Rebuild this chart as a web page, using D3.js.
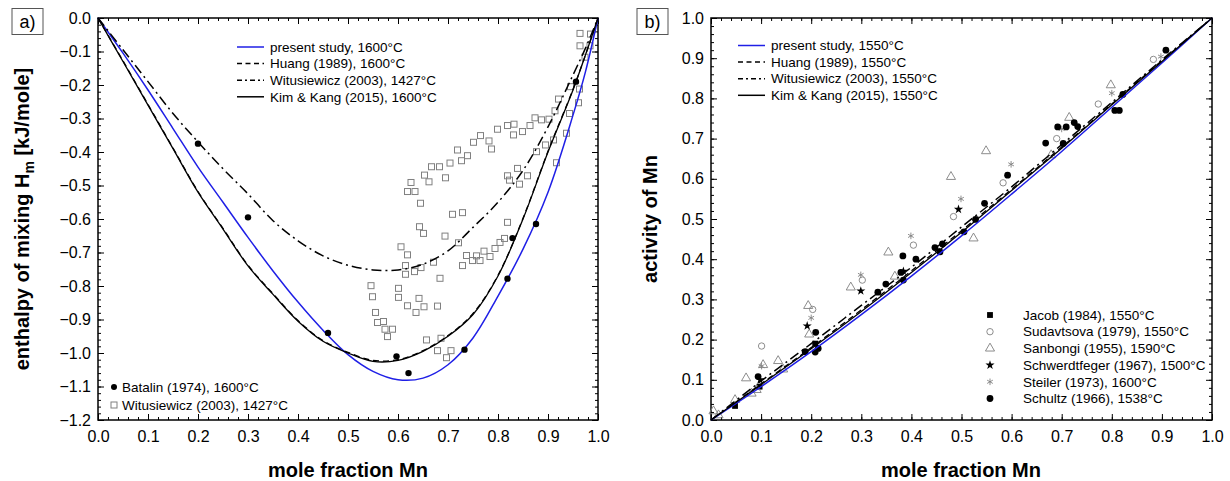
<!DOCTYPE html>
<html>
<head>
<meta charset="utf-8">
<script src="https://cdn.jsdelivr.net/npm/d3@7"></script>
<style>
  body{margin:0;background:#fff;}
  svg{font-family:"Liberation Sans",Arial,sans-serif;}
</style>
</head>
<body>
<svg class="chart" width="1230" height="481"></svg>
<script>
// a) enthalpy of mixing [kJ/mole] vs. mole fraction Mn
var xTicks = [0,0.1,0.2,0.3,0.4,0.5,0.6,0.7,0.8,0.9,1.0],
  hTicks = [0,-0.1,-0.2,-0.3,-0.4,-0.5,-0.6,-0.7,-0.8,-0.9,-1.0,-1.1,-1.2],
  aTicks = [0,0.1,0.2,0.3,0.4,0.5,0.6,0.7,0.8,0.9,1.0];

var hPresent = [[0,0],[0.05,-0.105],[0.1,-0.215],[0.15,-0.33],[0.2,-0.445],[0.25,-0.55],[0.3,-0.655],[0.35,-0.755],[0.4,-0.848],[0.45,-0.932],[0.5,-1.005],[0.55,-1.055],[0.6,-1.08],[0.65,-1.075],[0.7,-1.035],[0.75,-0.955],[0.8,-0.83],[0.85,-0.69],[0.9,-0.52],[0.95,-0.29],[0.975,-0.16],[1,0]];
var hHuang = [[0,0],[0.05,-0.128],[0.1,-0.258],[0.15,-0.388],[0.2,-0.518],[0.25,-0.628],[0.3,-0.738],[0.35,-0.823],[0.4,-0.903],[0.45,-0.963],[0.5,-0.998],[0.55,-1.022],[0.6,-1.02],[0.65,-0.993],[0.7,-0.948],[0.75,-0.882],[0.8,-0.768],[0.85,-0.598],[0.9,-0.398],[0.95,-0.213],[0.975,-0.11],[1,0]];
var hWitus = [[0,0],[0.05,-0.095],[0.1,-0.19],[0.15,-0.285],[0.2,-0.37],[0.25,-0.45],[0.3,-0.525],[0.35,-0.605],[0.4,-0.665],[0.45,-0.71],[0.5,-0.738],[0.55,-0.752],[0.6,-0.752],[0.65,-0.735],[0.7,-0.695],[0.75,-0.625],[0.8,-0.55],[0.85,-0.455],[0.9,-0.325],[0.95,-0.17],[0.975,-0.09],[1,0]];
var hKimKang = [[0,0],[0.05,-0.13],[0.1,-0.26],[0.15,-0.39],[0.2,-0.52],[0.25,-0.63],[0.3,-0.74],[0.35,-0.825],[0.4,-0.905],[0.45,-0.965],[0.5,-1.0],[0.55,-1.025],[0.6,-1.022],[0.65,-0.995],[0.7,-0.95],[0.75,-0.885],[0.8,-0.77],[0.85,-0.6],[0.9,-0.4],[0.95,-0.215],[0.975,-0.11],[1,0]];

var hBatalin = [[0.2,-0.375],[0.3,-0.595],[0.46,-0.94],[0.597,-1.01],[0.621,-1.06],[0.733,-0.99],[0.819,-0.778],[0.829,-0.657],[0.876,-0.615],[0.956,-0.19]];
var hWitusExp = [[0.546,-0.799],[0.549,-0.832],[0.555,-0.879],[0.559,-0.909],[0.571,-0.906],[0.574,-0.929],[0.589,-0.929],[0.579,-0.951],
  [0.601,-0.807],[0.601,-0.834],[0.606,-0.683],[0.615,-0.739],[0.615,-0.765],[0.619,-0.707],[0.619,-0.859],[0.633,-0.757],[0.636,-0.879],[0.642,-0.837],[0.646,-0.745],[0.652,-0.862],[0.679,-0.86],[0.671,-0.729],[0.684,-0.777],
  [0.619,-0.518],[0.634,-0.518],[0.626,-0.491],[0.645,-0.553],[0.643,-0.623],[0.651,-0.643],[0.694,-0.651],
  [0.653,-0.469],[0.662,-0.489],[0.667,-0.444],[0.683,-0.444],[0.695,-0.477],[0.704,-0.433],
  [0.657,-0.961],[0.686,-0.956],[0.679,-0.993],[0.706,-0.993],[0.697,-1.014],
  [0.709,-0.586],[0.729,-0.581],[0.721,-0.671],
  [0.729,-0.739],[0.737,-0.709],[0.749,-0.724],[0.757,-0.71],[0.764,-0.724],[0.772,-0.696],[0.784,-0.712],[0.794,-0.688],[0.804,-0.67],[0.813,-0.658],[0.819,-0.61],
  [0.719,-0.394],[0.727,-0.426],[0.739,-0.411],[0.751,-0.371],[0.765,-0.351],[0.782,-0.367],[0.787,-0.391],[0.799,-0.332],[0.819,-0.321],[0.832,-0.317],[0.831,-0.349],[0.849,-0.339],[0.864,-0.321],[0.874,-0.298],[0.887,-0.304],[0.902,-0.302],
  [0.819,-0.471],[0.823,-0.484],[0.843,-0.496],[0.839,-0.449],[0.859,-0.471],[0.877,-0.399],[0.895,-0.379],[0.911,-0.364],[0.917,-0.432],[0.937,-0.344],
  [0.914,-0.277],[0.921,-0.242],[0.943,-0.285],[0.945,-0.205],[0.961,-0.253],[0.963,-0.212],[0.974,-0.117],[0.964,-0.083],[0.984,-0.083],[0.964,-0.046],[0.985,-0.048]];

// b) activity of Mn
var aPresent = [[0,0],[0.1,0.083],[0.2,0.17],[0.3,0.262],[0.4,0.358],[0.5,0.458],[0.6,0.562],[0.7,0.668],[0.8,0.778],[0.9,0.888],[1,1]];
var aHuang = [[0,0],[0.1,0.09],[0.2,0.18],[0.3,0.274],[0.4,0.371],[0.5,0.471],[0.6,0.574],[0.7,0.679],[0.8,0.786],[0.9,0.894],[1,1]];
var aWitus = [[0,0],[0.1,0.097],[0.2,0.19],[0.3,0.285],[0.4,0.38],[0.5,0.48],[0.6,0.58],[0.7,0.685],[0.8,0.79],[0.9,0.896],[1,1]];
var aKimKang = [[0,0],[0.1,0.088],[0.2,0.177],[0.3,0.27],[0.4,0.367],[0.5,0.467],[0.6,0.571],[0.7,0.676],[0.8,0.784],[0.9,0.892],[1,1]];

var aJacob = [[0.048,0.035],[0.097,0.083],[0.208,0.19]];
var aSudavtsova = [[0.101,0.184],[0.203,0.275],[0.302,0.348],[0.404,0.435],[0.484,0.506],[0.583,0.59],[0.69,0.70],[0.773,0.786],[0.883,0.897]];
var aSanbongi = [[0.005,0.022],[0.015,0.012],[0.048,0.05],[0.07,0.104],[0.081,0.066],[0.091,0.075],[0.104,0.137],[0.134,0.147],[0.144,0.126],[0.194,0.284],[0.196,0.213],[0.279,0.33],[0.354,0.417],[0.367,0.357],[0.479,0.605],[0.524,0.452],[0.549,0.669],[0.679,0.659],[0.715,0.752],[0.798,0.833]];
var aSchwerdtfeger = [[0.098,0.1],[0.192,0.234],[0.299,0.321],[0.384,0.37],[0.494,0.524]];
var aSteiler = [[0.101,0.134],[0.2,0.254],[0.299,0.361],[0.399,0.458],[0.499,0.55],[0.599,0.636],[0.7,0.724],[0.8,0.813],[0.898,0.904]];
var aSchultz = [[0.094,0.108],[0.188,0.17],[0.209,0.218],[0.208,0.169],[0.214,0.178],[0.333,0.318],[0.349,0.338],[0.379,0.367],[0.383,0.408],[0.384,0.348],[0.409,0.40],[0.447,0.429],[0.457,0.418],[0.462,0.438],[0.505,0.468],[0.528,0.499],[0.546,0.539],[0.592,0.609],[0.668,0.689],[0.692,0.729],[0.703,0.688],[0.709,0.729],[0.725,0.74],[0.732,0.73],[0.806,0.77],[0.815,0.77],[0.822,0.81],[0.908,0.92]];

var hLegend = ["present study, 1600°C","Huang (1989), 1600°C","Witusiewicz (2003), 1427°C","Kim & Kang (2015), 1600°C"],
  aLegend = ["present study, 1550°C","Huang (1989), 1550°C","Witusiewicz (2003), 1550°C","Kim & Kang (2015), 1550°C"],
  hExpLegend = ["Batalin (1974), 1600°C","Witusiewicz (2003), 1427°C"],
  aExpLegend = ["Jacob (1984), 1550°C","Sudavtsova (1979), 1550°C","Sanbongi (1955), 1590°C","Schwerdtfeger (1967), 1500°C","Steiler (1973), 1600°C","Schultz (1966), 1538°C"];

var Chart = (function(){
  var that = {},
    svg = d3.select(".chart"),
    blue = "#1f1fe6",
    gray = "#808080",
    lineStyles = [
      {stroke: blue, dash: null, width: 1.5},
      {stroke: "#000", dash: "6,4", width: 1.3},
      {stroke: "#000", dash: "10,4,2,4", width: 1.5},
      {stroke: "#000", dash: null, width: 1.3}
    ];

  // frame with inward ticks on all four sides
  function makeFrame(g, x, y, yTicks, w, h){
    var fmt = d3.format(".1f"),
      xMinor = d3.range(0, 1.0001, 0.02),
      yDom = y.domain(),
      yMinor = d3.range(Math.min(yDom[0], yDom[1]), Math.max(yDom[0], yDom[1]) + 0.0001, 0.02);

    function style(a, labels){
      a.select(".domain").remove();
      a.selectAll("line").attr("stroke", "#000").attr("stroke-width", 1);
      a.selectAll("text").attr("font-size", 16).attr("fill", "#000")
       .attr("font-family", "'Liberation Sans',Arial,sans-serif");
      if(!labels) a.selectAll("text").remove();
    }

    g.append("g").attr("transform", "translate(0," + h + ")")
     .call(d3.axisBottom(x).tickValues(xTicks).tickSize(-6).tickPadding(11).tickFormat(fmt))
     .call(style, true);
    g.append("g").attr("transform", "translate(0," + h + ")")
     .call(d3.axisBottom(x).tickValues(xMinor).tickSize(-3)).call(style, false);
    g.append("g").call(d3.axisTop(x).tickValues(xTicks).tickSize(-6)).call(style, false);
    g.append("g").call(d3.axisTop(x).tickValues(xMinor).tickSize(-3)).call(style, false);

    g.append("g")
     .call(d3.axisLeft(y).tickValues(yTicks).tickSize(-6).tickPadding(7).tickFormat(fmt))
     .call(style, true);
    g.append("g").call(d3.axisLeft(y).tickValues(yMinor).tickSize(-3)).call(style, false);
    g.append("g").attr("transform", "translate(" + w + ",0)")
     .call(d3.axisRight(y).tickValues(yTicks).tickSize(-6)).call(style, false);
    g.append("g").attr("transform", "translate(" + w + ",0)")
     .call(d3.axisRight(y).tickValues(yMinor).tickSize(-3)).call(style, false);

    g.append("rect").attr("width", w).attr("height", h)
     .attr("fill", "none").attr("stroke", "#000").attr("stroke-width", 1.5);
  }

  function drawCurves(g, x, y, curves){
    var line = d3.line()
                 .x(function(d){ return x(d[0]); })
                 .y(function(d){ return y(d[1]); })
                 .curve(d3.curveCatmullRom);
    curves.forEach(function(c, i){
      g.append("path").datum(c)
       .attr("d", line)
       .attr("fill", "none")
       .attr("stroke", lineStyles[i].stroke)
       .attr("stroke-width", lineStyles[i].width)
       .attr("stroke-dasharray", lineStyles[i].dash);
    });
  }

  function lineLegend(x0, y0, labels){
    labels.forEach(function(t, i){
      var yy = y0 + i * 16.6;
      svg.append("line")
         .attr("x1", x0).attr("x2", x0 + 27).attr("y1", yy).attr("y2", yy)
         .attr("stroke", lineStyles[i].stroke).attr("stroke-width", 1.5)
         .attr("stroke-dasharray", lineStyles[i].dash ? (i == 1 ? "5,3.5" : "5,3,2,3") : null);
      svg.append("text").attr("x", x0 + 33).attr("y", yy).attr("dy", "0.35em")
         .attr("font-size", 13.5).text(t);
    });
  }

  function panelLabel(x0, t){
    svg.append("rect").attr("x", x0).attr("y", 8.5).attr("width", 31).attr("height", 26)
       .attr("fill", "none").attr("stroke", "#555").attr("stroke-width", 1);
    svg.append("text").attr("x", x0 + 15.5).attr("y", 22).attr("dy", "0.35em")
       .attr("text-anchor", "middle").attr("font-size", 18).text(t);
  }

  function makeEnthalpy(){
    var w = 500, h = 402,
      g = svg.append("g").attr("transform", "translate(98,18)"),
      x = d3.scaleLinear().domain([0, 1]).range([0, w]),
      y = d3.scaleLinear().domain([-1.2, 0]).range([h, 0]);

    makeFrame(g, x, y, hTicks, w, h);

    g.selectAll(".wexp").data(hWitusExp).enter().append("rect")
     .attr("x", function(d){ return x(d[0]) - 3; })
     .attr("y", function(d){ return y(d[1]) - 3; })
     .attr("width", 6).attr("height", 6)
     .attr("fill", "none").attr("stroke", gray).attr("stroke-width", 1);

    drawCurves(g, x, y, [hPresent, hHuang, hWitus, hKimKang]);

    g.selectAll(".bat").data(hBatalin).enter().append("circle")
     .attr("cx", function(d){ return x(d[0]); })
     .attr("cy", function(d){ return y(d[1]); })
     .attr("r", 3.2).attr("fill", "#000");

    lineLegend(237, 47, hLegend);

    // experimental legend
    svg.append("circle").attr("cx", 114).attr("cy", 387).attr("r", 3).attr("fill", "#000");
    svg.append("rect").attr("x", 111).attr("y", 402).attr("width", 6).attr("height", 6)
       .attr("fill", "none").attr("stroke", gray);
    hExpLegend.forEach(function(t, i){
      svg.append("text").attr("x", 122).attr("y", 387 + i * 18).attr("dy", "0.35em")
         .attr("font-size", 13.5).text(t);
    });

    svg.append("text")
       .attr("transform", "translate(29,219) rotate(-90)")
       .attr("text-anchor", "middle").attr("font-size", 20).attr("font-weight", "bold")
       .call(function(t){
         t.append("tspan").text("enthalpy of mixing H");
         t.append("tspan").attr("font-size", 14).attr("dy", 5).text("m");
         t.append("tspan").attr("dy", -5).text(" [kJ/mole]");
       });
    svg.append("text").attr("x", 348).attr("y", 477).attr("text-anchor", "middle")
       .attr("font-size", 20).attr("font-weight", "bold").text("mole fraction Mn");

    panelLabel(12, "a)");
  }

  function makeActivity(){
    var w = 501, h = 402,
      g = svg.append("g").attr("transform", "translate(711,18)"),
      x = d3.scaleLinear().domain([0, 1]).range([0, w]),
      y = d3.scaleLinear().domain([0, 1]).range([h, 0]),
      asterisk = d3.symbolAsterisk || d3.symbolCross,
      sets = [
        {data: aJacob, type: d3.symbolSquare, size: 34, fill: "#000", stroke: "none"},
        {data: aSudavtsova, type: d3.symbolCircle, size: 32, fill: "none", stroke: gray},
        {data: aSanbongi, type: d3.symbolTriangle, size: 36, fill: "none", stroke: gray},
        {data: aSchwerdtfeger, type: d3.symbolStar, size: 26, fill: "#000", stroke: "none"},
        {data: aSteiler, type: asterisk, size: 30, fill: "none", stroke: gray},
        {data: aSchultz, type: d3.symbolCircle, size: 36, fill: "#000", stroke: "none"}
      ];

    makeFrame(g, x, y, aTicks, w, h);

    sets.forEach(function(s){
      var sym = d3.symbol().type(s.type).size(s.size);
      g.selectAll(null).data(s.data).enter().append("path")
       .attr("transform", function(d){ return "translate(" + x(d[0]) + "," + y(d[1]) + ")"; })
       .attr("d", sym)
       .attr("fill", s.fill).attr("stroke", s.stroke).attr("stroke-width", 0.9);
    });

    drawCurves(g, x, y, [aPresent, aHuang, aWitus, aKimKang]);

    lineLegend(738, 45.5, aLegend);

    sets.forEach(function(s, i){
      var yy = 315 + i * 16.7;
      svg.append("path")
         .attr("transform", "translate(990," + yy + ")")
         .attr("d", d3.symbol().type(s.type).size(s.size))
         .attr("fill", s.fill).attr("stroke", s.stroke).attr("stroke-width", 0.9);
      svg.append("text").attr("x", 1023).attr("y", yy).attr("dy", "0.35em")
         .attr("font-size", 13.5).text(aExpLegend[i]);
    });

    svg.append("text")
       .attr("transform", "translate(657,219) rotate(-90)")
       .attr("text-anchor", "middle").attr("font-size", 20).attr("font-weight", "bold")
       .text("activity of Mn");
    svg.append("text").attr("x", 961).attr("y", 477).attr("text-anchor", "middle")
       .attr("font-size", 20).attr("font-weight", "bold").text("mole fraction Mn");

    panelLabel(637, "b)");
  }

  that.init = function(){
    makeEnthalpy();
    makeActivity();
  };
  return that;
})();

Chart.init();
</script>
</body>
</html>
